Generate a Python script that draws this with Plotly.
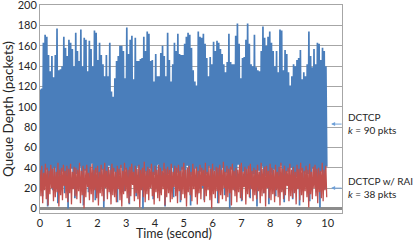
import numpy as np
import plotly.graph_objects as go

# ---- data ----
x_ticks = [0, 1, 2, 3, 4, 5, 6, 7, 8, 9, 10]
y_ticks = [0, 20, 40, 60, 80, 100, 120, 140, 160, 180, 200]

dctcp_peaks = [117, 118, 163, 171, 169, 151, 135, 150, 129, 151, 177, 136,
               137, 140, 169, 158, 150, 166, 163, 157, 140, 173, 155, 145, 176, 140, 168, 166,
               135, 165, 157, 140, 175, 173, 146, 163, 151, 142, 130, 151, 130, 163, 115, 110,
               128, 145, 150, 160, 160, 155, 128, 178, 152, 166, 170, 127, 168, 145, 145, 147,
               148, 169, 155, 174, 172, 145, 146, 125, 152, 130, 130, 153, 160, 150, 130, 173,
               146, 125, 142, 163, 155, 172, 152, 151, 151, 162, 169, 173, 171, 158, 136, 125,
               121, 174, 169, 168, 172, 162, 148, 130, 149, 142, 164, 155, 165, 163, 157, 152,
               142, 134, 144, 172, 144, 142,
               142, 170, 182, 162, 128, 148, 149, 166, 182, 162, 142, 140, 171, 139, 136, 135,
               155, 179, 168, 160, 169, 174, 163, 155, 140, 155, 134, 176, 175, 136, 156, 152,
               134, 121, 130, 142, 140, 146, 148, 156, 127, 134, 130, 142, 174, 150, 139, 157,
               142, 163, 162, 146, 158, 155, 140]

dctcp_troughs = [30, 12, 25, 38, 2, 28, 35, 18, 40, 22, 5, 33,
                 27, 36, 15, 31, 0, 24, 39, 29, 10, 34, 26, 41, 20, 3, 37, 30, 16, 28, 44, 23,
                 8, 35, 27, 19, 38, 1, 32, 25, 42, 14, 29, 36, 21, 6, 33, 40,
                 26, 17, 38, 30, 4, 24, 35, 28, 12, 41, 22, 31, 0, 36, 27, 19, 39, 25, 9, 33,
                 30, 43, 15, 26, 37, 2, 29, 34, 21, 40, 11, 28, 35, 24, 6, 38, 31, 18, 42, 27,
                 3, 33, 25, 39, 14, 30, 36, 20, 8, 34, 28, 41, 16, 24,
                 37, 29, 5, 32, 26, 40, 13, 35, 22, 0, 38, 30, 17, 27, 43, 21, 7, 36, 31, 25,
                 39, 10, 28, 34, 19, 2, 37, 26, 41, 15, 32, 29, 4, 35, 23, 38, 12, 30, 27, 42,
                 18, 6, 33, 36, 24, 40, 9, 29, 31, 20, 3, 37, 26, 35,
                 22, 34, 7, 28, 39, 31, 16, 25, 1, 36, 30, 19, 41]

rai_peaks = [38, 42, 35, 44, 40, 37, 43, 39, 41, 36, 45, 38, 40, 43, 37, 42, 39, 44, 36, 41,
             40, 38, 45, 37, 42, 39, 43, 35, 41, 44, 38, 40, 42, 36, 43, 39, 45, 37, 41, 38,
             44, 40, 36, 42, 39, 43, 37, 45, 40, 38, 41, 44, 36, 42, 39, 43, 38, 40, 46, 37,
             41, 39, 44, 36, 42, 38, 43, 40, 37, 45, 39, 41, 38, 44, 36, 42, 40, 43, 37, 41,
             45, 38, 40, 42, 36, 44, 39, 41, 37, 43, 40, 38, 45, 36, 42, 39, 44, 37, 41, 40,
             43, 38, 46, 36, 42, 39, 41, 44, 37, 40, 38, 43, 45, 36, 41, 39, 42, 44, 37, 40,
             38, 43, 36, 45, 39, 41, 42, 37, 44, 40, 38, 43, 36, 41, 45, 39, 42, 37, 40, 44,
             38, 41, 36, 43, 39, 45, 40, 37, 42, 38, 44, 36, 41, 43, 39, 40, 37, 45, 38, 42]

rai_troughs = [12, 5, 18, 9, 3, 14, 20, 7, 11, 16, 2, 13, 8, 22, 10, 6, 15, 4, 19, 12,
               9, 17, 5, 13, 0, 11, 21, 8, 14, 6, 18, 10, 3, 15, 12, 7, 20, 9, 16, 4,
               13, 11, 6, 19, 8, 2, 14, 17, 10, 5, 12, 23, 7, 15, 9, 1, 18, 11, 6, 14,
               8, 20, 12, 4, 16, 10, 7, 13, 19, 3, 11, 15, 6, 9, 21, 12, 5, 17, 8, 14,
               10, 2, 16, 13, 7, 19, 11, 4, 15, 9, 22, 6, 12, 18, 8, 0, 14, 10, 17, 5,
               13, 9, 20, 7, 11, 15, 3, 18, 12, 6, 16, 10, 8, 21, 4, 14, 11, 19, 7, 13,
               9, 17, 5, 12, 15, 2, 20, 10, 8, 14, 6, 18, 11, 3, 16, 9, 13, 22, 7, 12,
               10, 15, 4, 19, 8, 13, 6, 17, 11, 1, 14, 9, 20, 12, 5, 16, 10, 7, 18, 11]

duration = 10.0


def interleave(peaks, troughs, T):
    n = min(len(peaks), len(troughs))
    step = T / n
    xs, ys = [], []
    for i in range(n):
        xs += [i * step, i * step + step / 2]
        ys += [peaks[i], troughs[i]]
    return xs, ys


bx, by = interleave(dctcp_peaks, dctcp_troughs, duration)
rx, ry = interleave(rai_peaks, rai_troughs, duration)

FONT = "Lato"
TXT = "#262626"
BLUE = "#4a7ebb"
RED = "#c0504d"
ARROW = "#6fa0d8"

fig = go.Figure()
fig.add_trace(go.Scatter(x=bx, y=by, mode="lines", line=dict(color=BLUE, width=1.7),
                         name="DCTCP", hoverinfo="skip"))
fig.add_trace(go.Scatter(x=rx, y=ry, mode="lines", line=dict(color=RED, width=1.3),
                         name="DCTCP w/ RAI", hoverinfo="skip"))

fig.update_layout(
    width=415, height=240,
    margin=dict(l=40, r=73, t=5, b=27, autoexpand=False),
    paper_bgcolor="white", plot_bgcolor="white",
    showlegend=False,
    font=dict(family=FONT, size=11, color=TXT),
    xaxis=dict(range=[0, 10.5], tickvals=x_ticks, showgrid=False, zeroline=False,
               showline=True, mirror=True, linecolor="#a6a6a6", linewidth=1,
               ticks="", ticklabeloverflow="allow",
               tickfont=dict(size=11, family=FONT, color=TXT)),
    yaxis=dict(range=[-4.5, 200.2], tickvals=y_ticks, showgrid=True, gridcolor="#a6a6a6",
               gridwidth=1, zeroline=True, zerolinecolor="#8c8c8c", zerolinewidth=3,
               showline=True, mirror=True, linecolor="#a6a6a6", linewidth=1,
               ticks="", ticklabeloverflow="allow",
               tickfont=dict(size=11, family=FONT, color=TXT),
               title=dict(text="Queue Depth (packets)", font=dict(size=13.5, family=FONT, color=TXT),
                          standoff=4)),
)

# x-axis title (placed as in the reference)
fig.add_annotation(xref="paper", yref="paper", x=0.444, y=-0.098, text="Time (second)",
                   showarrow=False, xanchor="center", yanchor="middle",
                   font=dict(size=12.5, family=FONT, color=TXT))

annots = [
    ("DCTCP<br><i>k</i> = 90 pkts", 84, 83),
    ("DCTCP w/ RAI<br><i>k</i> = 38 pkts", 20.5, 20),
]
for text, ytext, yarrow in annots:
    fig.add_annotation(xref="paper", yref="y", x=1.012, y=ytext, text=text, showarrow=False,
                       xanchor="left", yanchor="middle", align="left",
                       font=dict(size=10, family=FONT, color=TXT))
    fig.add_annotation(xref="paper", yref="y", x=0.964, y=yarrow, ax=12, ay=0, text="",
                       showarrow=True, arrowhead=2, arrowsize=0.8, arrowwidth=1,
                       arrowcolor=ARROW)

fig.write_html("out.html", config=dict(displayModeBar=False),
               post_script="document.body.style.margin='0';document.body.style.overflow='hidden';")
